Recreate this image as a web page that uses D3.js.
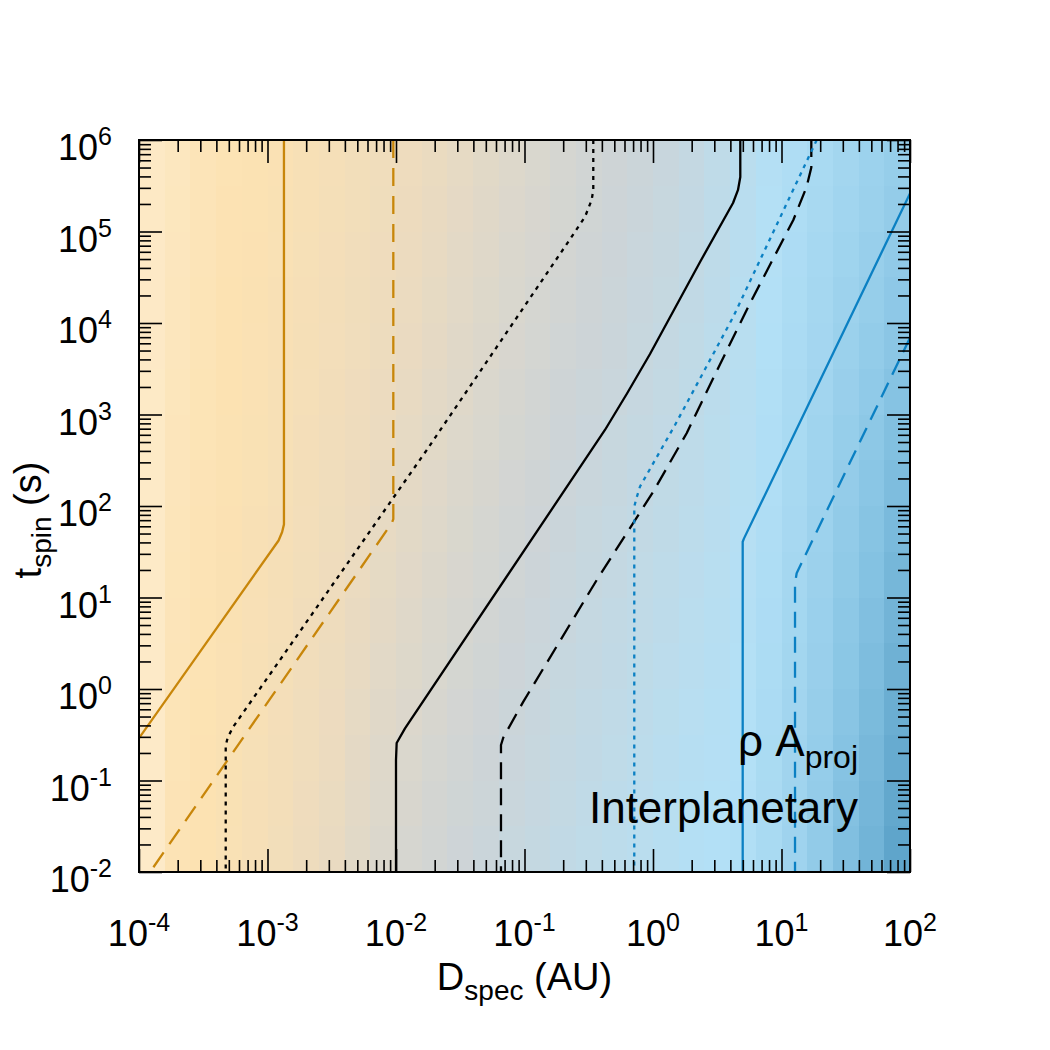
<!DOCTYPE html>
<html>
<head>
<meta charset="utf-8">
<script src="https://cdn.jsdelivr.net/npm/d3@7"></script>
<style>
body{margin:0;background:#fff;}
text{font-family:"Liberation Sans",Arial,Helvetica,sans-serif;fill:#000;}
</style>
</head>
<body>
<svg id="chart" width="1050" height="1050"></svg>
<script>
// tick decades (powers of ten)
var xDecades = [-4,-3,-2,-1,0,1,2];
var yDecades = [-2,-1,0,1,2,3,4,5,6];

// background cells: 30 columns (0.2 dex each), 16 rows (0.5 dex each)
// level read along the top row and the bottom row, rowBlend = how far each row is toward the bottom look
var levelTop = [-2.6,-2.4,-2.2,-2.05,-1.95,-1.85,-1.7,-1.55,-1.4,-1.25,
                -1.1,-0.95,-0.8,-0.65,-0.5,-0.38,-0.26,-0.14,-0.04,0.08,
                0.2,0.35,0.55,0.75,0.95,1.1,1.25,1.4,1.55,1.7];
var levelBottom = [-2.7,-2.1,-2.0,-1.8,-1.6,-1.4,-1.15,-0.9,-0.65,-0.45,
                   -0.3,-0.15,-0.02,0.1,0.22,0.33,0.45,0.55,0.65,0.75,
                   0.85,0.95,1.0,1.05,1.25,1.5,1.8,2.2,2.55,3.0];
var rowBlend = [0,0.04,0.1,0.16,0.22,0.3,0.37,0.44,0.51,0.58,0.65,0.72,0.79,0.86,0.93,1];
var levelStops = [-3,-2,-1,0,1,2,3];
var levelColors = ["#fdeed2","#fce2b2","#ecdbbf","#cdd4d7","#b3e0f6","#8ac6e5","#5fa5cb"];

// curves, [D_spec (AU), t_spin (s)], ordered from long to short spin time
var orangeSolid = [[1.343e-3,1e6],[1.343e-3,63],[1.3e-3,52],[1.22e-3,42],[1e-4,0.29]];
var orangeDashed = [[9.53e-3,1e6],[9.53e-3,72],[9.27e-3,65],[1.22e-4,0.01]];
var blackDotted = [[0.343,1e6],[0.343,2.84e5],[0.333,2.21e5],[0.296,1.45e5],[0.233,8.77e4],
                   [0.01734,409],[5.42e-4,0.387],[4.9e-4,0.295],[4.73e-4,0.24],[4.73e-4,0.01]];
var blackSolid = [[4.779,1e6],[4.779,3.945e5],[4.587,2.844e5],[4.195,2.047e5],[2.323,4.645e4],
                  [0.9478,4581],[0.6277,1698],[0.4227,677.5],[0.01175,0.3715],[0.01012,0.257],
                  [0.01,0.1675],[0.01,0.01]];
var blackDashed = [[17.06,1e6],[17.06,5.01e5],[15.70,3.09e5],[12.36,1.336e5],[5.689,1.644e4],
                   [3.1,2900],[1.828,623.7],[1.0,142],[0.3648,15.52],[0.09795,0.7278],
                   [0.0684,0.295],[0.06561,0.2443],[0.06561,0.01]];
var blueDotted = [[18.79,1e6],[4.217,1.172e4],[1.483,767],[0.7925,163.3],[0.741,120],
                  [0.715,98.2],[0.715,0.01]];
var blueSolid = [[100,2.61e5],[5.1,44],[4.989,40.7],[4.989,0.01]];
var blueDashed = [[100,6887],[13.12,18.41],[12.74,14.13],[12.74,0.01]];

var curves = [
  {pts:orangeSolid, color:"#c8860a", dash:null},
  {pts:orangeDashed, color:"#c8860a", dash:"18,10"},
  {pts:blackDotted, color:"#000", dash:"4,5"},
  {pts:blackSolid, color:"#000", dash:null},
  {pts:blackDashed, color:"#000", dash:"17,9"},
  {pts:blueDotted, color:"#0b80c3", dash:"4,5"},
  {pts:blueSolid, color:"#0b80c3", dash:null},
  {pts:blueDashed, color:"#0b80c3", dash:"16,9"}
];

var L = 139, R = 910, T = 140, B = 872;
var svg = d3.select("#chart");
var x = d3.scaleLog().domain([1e-4,1e2]).range([L,R]);
var y = d3.scaleLog().domain([1e-2,1e6]).range([B,T]);
var color = d3.scaleLinear().domain(levelStops).range(levelColors).clamp(true);

// heat cells
var cells = [];
levelTop.forEach(function(v,i){
  rowBlend.forEach(function(w,j){
    cells.push({
      x0: Math.pow(10,-4+0.2*i), x1: Math.pow(10,-4+0.2*(i+1)),
      y0: Math.pow(10,6-0.5*j), y1: Math.pow(10,6-0.5*(j+1)),
      v: v + (levelBottom[i]-v)*w
    });
  });
});
svg.append("g").selectAll("rect").data(cells).enter().append("rect")
  .attr("x",function(d){return x(d.x0);})
  .attr("y",function(d){return y(d.y0);})
  .attr("width",function(d){return x(d.x1)-x(d.x0)+0.6;})
  .attr("height",function(d){return y(d.y1)-y(d.y0)+0.6;})
  .attr("fill",function(d){return color(d.v);})
  .attr("shape-rendering","crispEdges");

// curves
svg.append("clipPath").attr("id","plotclip").append("rect")
  .attr("x",L).attr("y",T).attr("width",R-L).attr("height",B-T);
var line = d3.line().x(function(d){return x(d[0]);}).y(function(d){return y(d[1]);});
svg.append("g").attr("clip-path","url(#plotclip)").selectAll("path").data(curves).enter().append("path")
  .attr("d",function(d){return line(d.pts);})
  .attr("fill","none")
  .attr("stroke",function(d){return d.color;})
  .attr("stroke-width",2.3)
  .attr("stroke-linejoin","round")
  .attr("stroke-dasharray",function(d){return d.dash;});

// ticks, pointing inward on all four sides
var xMajor = xDecades.map(function(e){return Math.pow(10,e);});
var yMajor = yDecades.map(function(e){return Math.pow(10,e);});
function isMajor(v){ var l = Math.log10(v); return Math.abs(l-Math.round(l))<1e-9; }
var xMinor = x.ticks().filter(function(v){return !isMajor(v);});
var yMinor = y.ticks().filter(function(v){return !isMajor(v);});

function addAxis(gen, scale, vals, size, tx, ty){
  var g = svg.append("g").attr("transform","translate("+tx+","+ty+")")
    .call(gen(scale).tickValues(vals).tickSizeInner(size).tickSizeOuter(0).tickFormat(""));
  g.select(".domain").remove();
  g.selectAll(".tick line").attr("stroke","#000").attr("stroke-width",1.6);
}
addAxis(d3.axisBottom, x, xMajor, -23, 0, B);
addAxis(d3.axisBottom, x, xMinor, -12, 0, B);
addAxis(d3.axisTop, x, xMajor, -23, 0, T);
addAxis(d3.axisTop, x, xMinor, -12, 0, T);
addAxis(d3.axisLeft, y, yMajor, -23, L, 0);
addAxis(d3.axisLeft, y, yMinor, -12, L, 0);
addAxis(d3.axisRight, y, yMajor, -23, R, 0);
addAxis(d3.axisRight, y, yMinor, -12, R, 0);

svg.append("rect").attr("x",L).attr("y",T).attr("width",R-L).attr("height",B-T)
  .attr("fill","none").attr("stroke","#000").attr("stroke-width",2);

// tick labels 10^n
function powLabel(sel){
  sel.append("tspan").text("10");
  sel.append("tspan").attr("dy",-15).attr("font-size",25).text(function(d){return d;});
}
svg.append("g").selectAll("text").data(xDecades).enter().append("text")
  .attr("x",function(d){return x(Math.pow(10,d));})
  .attr("y",946)
  .attr("text-anchor","middle")
  .attr("font-size",36)
  .call(powLabel);
svg.append("g").selectAll("text").data(yDecades).enter().append("text")
  .attr("x",112)
  .attr("y",function(d){return y(Math.pow(10,d))+20;})
  .attr("text-anchor","end")
  .attr("font-size",36)
  .call(powLabel);

// axis titles
var xt = svg.append("text").attr("x",(L+R)/2).attr("y",990).attr("text-anchor","middle").attr("font-size",38);
xt.append("tspan").text("D");
xt.append("tspan").attr("dy",10).attr("font-size",28).text("spec");
xt.append("tspan").attr("dy",-10).text(" (AU)");

var yt = svg.append("text").attr("transform","translate(41,520) rotate(-90)")
  .attr("text-anchor","middle").attr("font-size",38);
yt.append("tspan").text("t");
yt.append("tspan").attr("dy",10).attr("font-size",28).text("spin");
yt.append("tspan").attr("dy",-10).text(" (s)");

// annotation
var a1 = svg.append("text").attr("x",858).attr("y",756).attr("text-anchor","end").attr("font-size",44);
a1.append("tspan").text("\u03c1 A");
a1.append("tspan").attr("dy",12).attr("font-size",32).text("proj");
svg.append("text").attr("x",858).attr("y",823).attr("text-anchor","end").attr("font-size",44).text("Interplanetary");
</script>
</body>
</html>
